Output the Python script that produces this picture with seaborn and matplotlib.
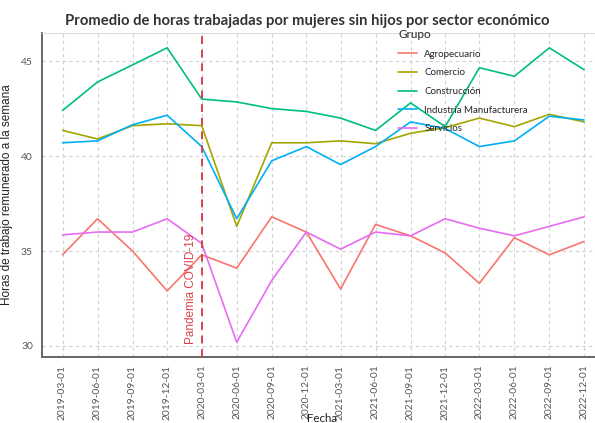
import numpy as np
import pandas as pd
import matplotlib
matplotlib.use("Agg")
import matplotlib.pyplot as plt
import matplotlib.transforms as mtransforms
import seaborn as sns

# ── Data ──
FECHAS = ["2019-03-01", "2019-06-01", "2019-09-01", "2019-12-01",
          "2020-03-01", "2020-06-01", "2020-09-01", "2020-12-01",
          "2021-03-01", "2021-06-01", "2021-09-01", "2021-12-01",
          "2022-03-01", "2022-06-01", "2022-09-01", "2022-12-01"]

agropecuario = [34.8, 36.7, 35.0, 32.9, 34.8, 34.1, 36.8, 36.0,
                33.0, 36.4, 35.8, 34.9, 33.3, 35.7, 34.8, 35.5]
comercio = [41.35, 40.9, 41.6, 41.7, 41.6, 36.3, 40.7, 40.7,
            40.8, 40.65, 41.2, 41.5, 42.0, 41.55, 42.2, 41.8]
construccion = [42.4, 43.9, 44.8, 45.7, 43.0, 42.85, 42.5, 42.35,
                42.0, 41.35, 42.8, 41.55, 44.65, 44.2, 45.7, 44.55]
industria = [40.7, 40.8, 41.65, 42.15, 40.5, 36.7, 39.75, 40.5,
             39.55, 40.5, 41.8, 41.45, 40.5, 40.8, 42.1, 41.9]
servicios = [35.85, 36.0, 36.0, 36.7, 35.4, 30.2, 33.45, 36.0,
             35.1, 36.0, 35.8, 36.7, 36.2, 35.8, 36.3, 36.8]

GRUPOS = ["Agropecuario", "Comercio", "Construcción",
          "Industria Manufacturera", "Servicios"]
COLORES = ["#F8766D", "#A3A500", "#00BF7D", "#00B0F6", "#E76BF3"]

fechas = pd.to_datetime(FECHAS)
df = pd.concat([
    pd.DataFrame({"Fecha": fechas, "Horas": vals, "Grupo": g})
    for g, vals in zip(GRUPOS, [agropecuario, comercio, construccion, industria, servicios])
], ignore_index=True)

sns.set_theme(style="white")
plt.rcParams["font.family"] = ["Lato", "DejaVu Sans"]

fig = plt.figure(figsize=(5.95, 4.23), dpi=100)
ax = fig.add_axes([0.0706, 0.156, 0.9294, 0.766])

sns.lineplot(data=df, x="Fecha", y="Horas", hue="Grupo", hue_order=GRUPOS,
             palette=COLORES, linewidth=1.2, ax=ax)

# pandemic marker
covid = pd.Timestamp("2020-03-01")
ax.axvline(covid, color="#d9414a", linestyle=(0, (4, 3)), linewidth=1.4, zorder=3)
offset = mtransforms.offset_copy(ax.transData, fig=fig, x=-3.5, y=0, units="points")
ax.text(covid, 30.1, "Pandemia COVID-19", rotation=90, ha="right", va="bottom",
        color="#d9414a", fontsize=8.5, family=["Liberation Sans", "DejaVu Sans"],
        transform=offset)

# axes styling
ax.set_xlim(fechas[0] - pd.Timedelta(days=54), fechas[-1] + pd.Timedelta(days=29))
ax.set_ylim(29.42, 46.48)
ax.set_yticks([30, 35, 40, 45])
ax.set_xticks(fechas)
ax.set_xticklabels(FECHAS, rotation=90)
ax.tick_params(axis="both", labelsize=7.4, labelcolor="#555555", length=3,
               color="#cccccc", width=0.8)
ax.tick_params(axis="x", pad=2.5)
ax.grid(True, linestyle=(0, (3, 3)), color="#d0d0d0", linewidth=0.8)
ax.set_axisbelow(True)

for side in ["left", "bottom"]:
    ax.spines[side].set_color("#666666")
    ax.spines[side].set_linewidth(1.4)
ax.spines["top"].set_color("#dddddd")
ax.spines["top"].set_linewidth(0.8)
ax.spines["right"].set_visible(False)

ax.set_xlabel("")
fig.text(322 / 595, 1 - 421.5 / 423, "Fecha", ha="center", va="baseline",
         fontsize=8.3, color="#222222")
ax.set_ylabel("Horas de trabajo remunerado a la semana", fontsize=8.5, color="#222222",
              family=["Liberation Sans", "DejaVu Sans"], labelpad=6)
ax.set_title("Promedio de horas trabajadas por mujeres sin hijos por sector económico",
             fontsize=10.7, fontweight="bold", color="#333333", pad=6, x=0.48)

leg = ax.legend(title="Grupo", loc="upper left", bbox_to_anchor=(0.637, 1.025),
                frameon=False, fontsize=7, title_fontsize=8.5,
                handlelength=1.9, handletextpad=0.8, labelspacing=1.0,
                alignment="left", borderaxespad=0)
for line in leg.get_lines():
    line.set_linewidth(1.2)

fig.savefig("out.png", dpi=100)
